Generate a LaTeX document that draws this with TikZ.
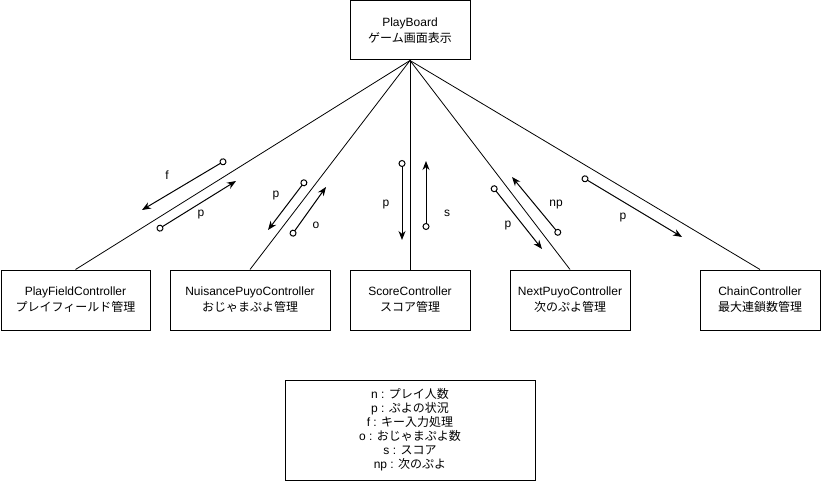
\documentclass[tikz,border=0pt]{standalone}
\usepackage{fontspec}
\setmainfont{Liberation Sans}
\newfontfamily\cjk{Noto Sans CJK JP}
\usetikzlibrary{arrows.meta}
\begin{document}
\begin{tikzpicture}[x=1pt,y=-1pt,
  box/.style={draw,line width=1pt,inner sep=0pt,align=center,font=\fontsize{12}{16}\selectfont},
  link/.style={line width=0.8pt},
  flow/.style={line width=1pt,{Circle[open,length=7pt,width=7pt]}-{Stealth[length=9pt,width=7pt]}},
  lbl/.style={font=\fontsize{12}{14}\selectfont,inner sep=0pt}]
\useasboundingbox (0,0) rectangle (821,481);
\node[box,minimum width=120pt,minimum height=59pt] (pb) at (410,30.5) {PlayBoard\\{\cjk ゲーム画面表示}};
\node[box,minimum width=149pt,minimum height=60pt] (pf) at (75.5,300) {PlayFieldController\\{\cjk プレイフィールド管理}};
\node[box,minimum width=160pt,minimum height=60pt] (nu) at (250,300) {NuisancePuyoController\\{\cjk おじゃまぷよ管理}};
\node[box,minimum width=120pt,minimum height=60pt] (sc) at (410,300) {ScoreController\\{\cjk スコア管理}};
\node[box,minimum width=120pt,minimum height=60pt] (nx) at (570,300) {NextPuyoController\\{\cjk 次のぷよ管理}};
\node[box,minimum width=120pt,minimum height=60pt] (ch) at (760,300) {ChainController\\{\cjk 最大連鎖数管理}};
\node[box,minimum width=250pt,minimum height=100pt,font=\fontsize{12}{14}\selectfont] (lg) at (410,430)
 {n : {\cjk プレイ人数}\\p : {\cjk ぷよの状況}\\f : {\cjk キー入力処理}\\o : {\cjk おじゃまぷよ数}\\s : {\cjk スコア}\\np : {\cjk 次のぷよ}};
\foreach \t in {pf,nu,sc,nx,ch} \draw[link] (pb.south) -- (\t.north);
% data flows
\coordinate (fA) at (226,160); \coordinate (fB) at (142,210);
\coordinate (pA) at (157,230); \coordinate (pB) at (236,181);
\coordinate (nA) at (306,180); \coordinate (nB) at (268,230);
\coordinate (oA) at (291,236); \coordinate (oB) at (326,187);
\coordinate (spA) at (402,160); \coordinate (spB) at (402,240);
\coordinate (sA) at (426,230); \coordinate (sB) at (426,161);
\coordinate (xpA) at (492,186); \coordinate (xpB) at (542,249);
\coordinate (npA) at (560,235); \coordinate (npB) at (512,177);
\coordinate (cA) at (582,177); \coordinate (cB) at (682,237);
\draw[flow] (fA) -- (fB);
\draw[flow] (pA) -- (pB);
\draw[flow] (nA) -- (nB);
\draw[flow] (oA) -- (oB);
\draw[flow] (spA) -- (spB);
\draw[flow] (sA) -- (sB);
\draw[flow] (xpA) -- (xpB);
\draw[flow] (npA) -- (npB);
\draw[flow] (cA) -- (cB);
\node[lbl] (lf) at (167,175) {f};
\node[lbl] (lp1) at (201,215) {p};
\node[lbl] (lp2) at (276,196) {p};
\node[lbl] (lo) at (316,225) {o};
\node[lbl] (lp3) at (386,205) {p};
\node[lbl] (ls) at (447,213) {s};
\node[lbl] (lp4) at (508,226) {p};
\node[lbl] (lnp) at (556,205) {np};
\node[lbl] (lp5) at (623,218) {p};
\end{tikzpicture}
\end{document}
